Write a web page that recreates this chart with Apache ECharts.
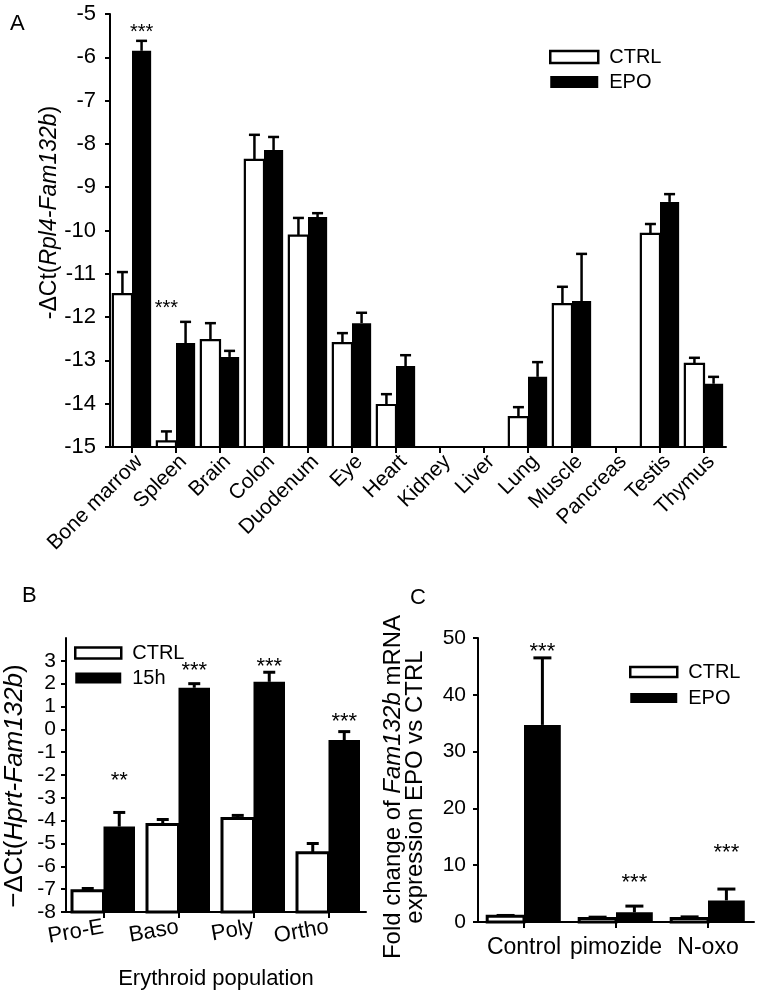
<!DOCTYPE html>
<html><head><meta charset="utf-8">
<script src="https://cdn.jsdelivr.net/npm/echarts@6/dist/echarts.min.js"></script>
<style>html,body{margin:0;padding:0;background:#fff}#c{width:762px;height:996px}</style>
</head><body><div id="c"></div>
<script>
// ---- Panel A: tissues ----
const tissues = ['Bone marrow','Spleen','Brain','Colon','Duodenum','Eye','Heart','Kidney','Liver','Lung','Muscle','Pancreas','Testis','Thymus'];
const tissueCtrl       = [-11.47,-14.87,-12.53,-8.37,-10.12,-12.60,-14.03,null,null,-14.31,-11.70,null,-10.08,-13.08];
const tissueCtrlErrTop = [-10.96,-14.64,-12.14,-7.79,-9.71,-12.37,-13.78,null,null,-14.08,-11.30,null,-9.85,-12.94];
const tissueEpo        = [-5.85,-12.60,-12.92,-8.14,-9.69,-12.14,-13.13,null,null,-13.38,-11.63,null,-9.34,-13.54];
const tissueEpoErrTop  = [-5.62,-12.11,-12.78,-7.84,-9.60,-11.90,-12.88,null,null,-13.04,-10.54,null,-9.16,-13.38];
const tissueStars      = [['Bone marrow',-5.42,'***','EPO'],['Spleen',-11.79,'***','CTRL']];
const tissueTicks      = [-5,-6,-7,-8,-9,-10,-11,-12,-13,-14,-15];

// ---- Panel B: erythroid populations ----
const populations   = ['Pro-E','Baso','Poly','Ortho'];
const popCtrl       = [-7.07,-4.17,-3.90,-5.40];
const popCtrlErrTop = [-6.97,-3.95,-3.77,-5.00];
const pop15h        = [-4.26,1.82,2.08,-0.47];
const pop15hErrTop  = [-3.64,2.00,2.50,-0.10];
const popStars      = [['Pro-E',-2.27,'**','15h'],['Baso',2.57,'***','15h'],['Poly',2.75,'***','15h'],['Ortho',0.33,'***','15h']];
const popTicks      = [-8,-7,-6,-5,-4,-3,-2,-1,0,1,2,3];

// ---- Panel C: treatments ----
const treatments      = ['Control','pimozide','N-oxo'];
const treatCtrl       = [1.0,0.6,0.6];
const treatCtrlErrTop = [1.15,0.85,0.9];
const treatEpo        = [34.7,1.7,3.8];
const treatEpoErrTop  = [46.5,2.8,5.8];
const treatStars      = [['Control',47.5,'***','EPO'],['pimozide',6.9,'***','EPO'],['N-oxo',12.1,'***','EPO']];
const treatTicks      = [0,10,20,30,40,50];

const FONT = '"Liberation Sans", Arial, sans-serif';

function rows(vals, errs){
  const out=[];
  vals.forEach((v,i)=>{ if(v!==null) out.push([i,v,errs[i]]); });
  return out;
}
function barRenderer(left, frac, cap, lw, yMin, fill, bw){
  return function(params, api){
    const idx=api.value(0), v=api.value(1), e=api.value(2);
    const band=api.size([1,0])[0];
    const w=band*frac;
    const top=api.coord([idx,v]);
    const base=api.coord([idx,yMin]);
    const x0= left ? top[0]-w : top[0];
    const xc=x0+w/2;
    const et=api.coord([idx,e])[1];
    return {type:'group', children:[
      {type:'line', shape:{x1:xc,y1:top[1],x2:xc,y2:et}, style:{stroke:'#000',lineWidth:lw}},
      {type:'line', shape:{x1:xc-cap/2,y1:et,x2:xc+cap/2,y2:et}, style:{stroke:'#000',lineWidth:lw}},
      {type:'rect', shape:{x:x0,y:top[1],width:w,height:base[1]-top[1]},
        style: left ? {fill:'#fff',stroke:'#000',lineWidth:bw} : {fill:fill}}
    ]};
  };
}
function starRenderer(stars, cats, frac, ctrlName, fs){
  return function(params, api){
    const s=stars[params.dataIndex];
    const idx=cats.indexOf(s[0]);
    const band=api.size([1,0])[0];
    const w=band*frac;
    const p=api.coord([idx,s[1]]);
    const x = s[3]===ctrlName ? p[0]-w/2 : p[0]+w/2;
    return {type:'text', x:x, y:p[1], style:{text:s[2], fill:'#000', fontSize:fs, fontFamily:FONT, align:'center', verticalAlign:'middle'}};
  };
}
function starData(stars, cats){ return stars.map(s=>[cats.indexOf(s[0]), s[1]]); }

const axisLineStyle={color:'#000',width:2};
function xCat(grid, cats, labelCfg, extra){
  return Object.assign({gridIndex:grid, type:'category', data:cats,
    axisLine:{show:true,onZero:false,lineStyle:axisLineStyle},
    axisTick:{show:true,alignWithLabel:true,length:6,lineStyle:{color:'#000',width:2}},
    axisLabel:Object.assign({interval:0,color:'#000',fontFamily:FONT},labelCfg),
    splitLine:{show:false}}, extra||{});
}
function yVal(grid, min, max, interval, ticks, fs, margin, extra){
  return Object.assign({gridIndex:grid, type:'value', min:min, max:max, interval:interval,
    axisLine:{show:true,lineStyle:axisLineStyle},
    axisTick:{show:true,length:5,lineStyle:{color:'#000',width:2},customValues:ticks},
    axisLabel:{color:'#000',fontSize:fs,fontFamily:FONT,margin:margin,customValues:ticks},
    splitLine:{show:false}}, extra||{});
}
const legendBase = {orient:'vertical', icon:'rect', selectedMode:false, itemWidth:48, itemHeight:12, itemGap:5,
  textStyle:{fontSize:20,color:'#000',fontFamily:FONT,padding:[0,0,0,6]}};
function legendData(a,b){return [{name:a,itemStyle:{color:'#fff',borderColor:'#000',borderWidth:2.5}},{name:b,itemStyle:{color:'#000',borderWidth:0}}];}
function nameStyle(fs, lh, pad){
  return {fontSize:fs,color:'#000',fontFamily:FONT,lineHeight:lh,padding:pad,
    rich:{i:{fontSize:fs,fontStyle:'italic',fontFamily:FONT,color:'#000',lineHeight:lh}}};
}
const letterStyle={fontSize:22,fontWeight:'normal',color:'#000',fontFamily:FONT};

const fA=0.435, fB=0.42, fC=0.40;
const option = {
  animation:false,
  backgroundColor:'#fff',
  title:[
    {text:'A', left:5, top:8, textStyle:letterStyle},
    {text:'B', left:17, top:580, textStyle:letterStyle},
    {text:'C', left:405, top:582, textStyle:letterStyle}
  ],
  legend:[
    Object.assign({}, legendBase, {left:544, top:42, data:legendData('CTRL','EPO')}),
    Object.assign({}, legendBase, {left:69, top:638, itemWidth:46, itemHeight:11, data:legendData('CTRL','15h')}),
    Object.assign({}, legendBase, {left:624, top:657, itemWidth:47, itemHeight:10, itemGap:6, data:legendData('CTRL','EPO')})
  ],
  grid:[
    {left:110, top:14, width:616, height:433, outerBoundsMode:'none', containLabel:false},
    {left:66, top:638, width:300, height:274, outerBoundsMode:'none', containLabel:false},
    {left:478, top:638, width:276, height:284, outerBoundsMode:'none', containLabel:false}
  ],
  xAxis:[
    xCat(0, tissues, {rotate:45, fontSize:21, margin:4, verticalAlign:'top'}),
    xCat(1, populations, {rotate:10, fontSize:22, margin:15},
      {name:'Erythroid population', nameLocation:'middle', nameGap:56, nameTextStyle:{fontSize:22,color:'#000',fontFamily:FONT}}),
    xCat(2, treatments, {rotate:0, fontSize:23, margin:14})
  ],
  yAxis:[
    yVal(0, -15, -5, 1, tissueTicks, 22, 14, {name:'-ΔCt({i|Rpl4-Fam132b})', nameLocation:'middle', nameRotate:90, nameGap:47, nameMoveOverlap:false,
      nameTextStyle:nameStyle(23, 26, [0,0,0,36])}),
    yVal(1, -8, 4, 1, popTicks, 21, 10, {name:'−ΔCt({i|Hprt-Fam132b})', nameLocation:'middle', nameRotate:90, nameGap:37,
      nameTextStyle:nameStyle(26, 28, [0,22,0,0])}),
    yVal(2, 0, 50, 10, treatTicks, 21, 12, {name:'Fold change of {i|Fam132b} mRNA\nexpression EPO vs CTRL', nameLocation:'middle', nameRotate:90, nameGap:52,
      nameTextStyle:nameStyle(24, 22, [0,14,0,0])})
  ],
  series:[
    {name:'CTRL', type:'custom', xAxisIndex:0, yAxisIndex:0, itemStyle:{color:'#fff',borderColor:'#000'}, encode:{x:0,y:[1,2]},
      data:rows(tissueCtrl,tissueCtrlErrTop), renderItem:barRenderer(true,fA,11,2.5,-15,'#fff',2.2)},
    {name:'EPO', type:'custom', xAxisIndex:0, yAxisIndex:0, itemStyle:{color:'#000'}, encode:{x:0,y:[1,2]},
      data:rows(tissueEpo,tissueEpoErrTop), renderItem:barRenderer(false,fA,11,2.5,-15,'#000',0)},
    {name:'starsA', type:'custom', xAxisIndex:0, yAxisIndex:0, encode:{x:0,y:1},
      data:starData(tissueStars,tissues), renderItem:starRenderer(tissueStars,tissues,fA,'CTRL',20)},

    {name:'CTRL', type:'custom', xAxisIndex:1, yAxisIndex:1, itemStyle:{color:'#fff',borderColor:'#000'}, encode:{x:0,y:[1,2]},
      data:rows(popCtrl,popCtrlErrTop), renderItem:barRenderer(true,fB,12,3,-8,'#fff',3)},
    {name:'15h', type:'custom', xAxisIndex:1, yAxisIndex:1, itemStyle:{color:'#000'}, encode:{x:0,y:[1,2]},
      data:rows(pop15h,pop15hErrTop), renderItem:barRenderer(false,fB,12,3,-8,'#000',0)},
    {name:'starsB', type:'custom', xAxisIndex:1, yAxisIndex:1, encode:{x:0,y:1},
      data:starData(popStars,populations), renderItem:starRenderer(popStars,populations,fB,'CTRL',22)},

    {name:'CTRL', type:'custom', xAxisIndex:2, yAxisIndex:2, itemStyle:{color:'#fff',borderColor:'#000'}, encode:{x:0,y:[1,2]},
      data:rows(treatCtrl,treatCtrlErrTop), renderItem:barRenderer(true,fC,18,3,0,'#fff',3)},
    {name:'EPO', type:'custom', xAxisIndex:2, yAxisIndex:2, itemStyle:{color:'#000'}, encode:{x:0,y:[1,2]},
      data:rows(treatEpo,treatEpoErrTop), renderItem:barRenderer(false,fC,18,3,0,'#000',0)},
    {name:'starsC', type:'custom', xAxisIndex:2, yAxisIndex:2, encode:{x:0,y:1},
      data:starData(treatStars,treatments), renderItem:starRenderer(treatStars,treatments,fC,'CTRL',22)}
  ]
};
const chart = echarts.init(document.getElementById('c'), null, {renderer:'canvas'});
chart.setOption(option);
</script></body></html>
